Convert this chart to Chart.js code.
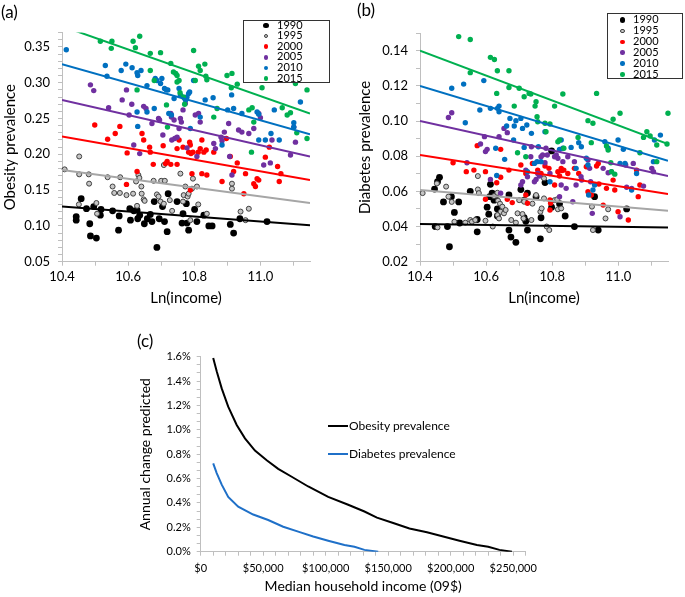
<!DOCTYPE html>
<html>
<head>
<meta charset="utf-8">
<script src="https://cdn.jsdelivr.net/npm/chart.js@4.4.1/dist/chart.umd.min.js"></script>
<style>
  body { margin: 0; background: #fff; font-family: Lato, sans-serif; color: #000; }
  #page { position: relative; width: 685px; height: 597px; overflow: hidden; }
  .pane { position: absolute; }
  .tag { position: absolute; font-size: 17px; line-height: 17px; }
  .legend { position: absolute; background: #fff; border: 1px solid #333; box-sizing: border-box; font-size: 11px; }
  .legend .dot { position: absolute; border-radius: 50%; box-sizing: border-box; }
  .legend .lab { position: absolute; line-height: 11px; }
  .lline { position: absolute; font-size: 12px; line-height: 14px; white-space: nowrap; }
  .lline i { position: absolute; left: -21px; top: 6px; width: 20px; height: 2px; }
</style>
</head>
<body>
<div id="page">
  <canvas id="ca" class="pane" width="340" height="310" style="left:0;top:0;width:340px;height:310px"></canvas>
  <canvas id="cb" class="pane" width="345" height="310" style="left:340px;top:0;width:345px;height:310px"></canvas>
  <canvas id="cc" class="pane" width="420" height="277" style="left:130px;top:320px;width:420px;height:277px"></canvas>
  <div class="tag" style="left:1px;top:3px">(a)</div>
  <div class="tag" style="left:357px;top:1px">(b)</div>
  <div class="tag" style="left:137px;top:332px">(c)</div>
  <div id="lega" class="legend" style="left:243px;top:20px;width:87px;height:63px"></div>
  <div id="legb" class="legend" style="left:607px;top:13px;width:76px;height:66px"></div>
  <div class="lline" style="left:349px;top:419px"><i style="background:#000"></i>Obesity prevalence</div>
  <div class="lline" style="left:349px;top:447px"><i style="background:#1f70c8"></i>Diabetes prevalence</div>
</div>
<script>
const years = ['1990', '1995', '2000', '2005', '2010', '2015'];
const yearColors = ['#000000', '#a6a6a6', '#ff0000', '#7030a0', '#0070c0', '#00b050'];

// (a) obesity prevalence vs ln(income), [ln income, prevalence]
const obesity1990 = [[10.443,0.113],[10.443,0.108],[10.458,0.138],[10.474,0.124],[10.484,0.103],[10.486,0.086],[10.504,0.083],[10.496,0.127],[10.516,0.115],[10.518,0.123],[10.553,0.121],[10.571,0.094],[10.573,0.114],[10.605,0.124],[10.607,0.108],[10.617,0.121],[10.627,0.122],[10.629,0.110],[10.635,0.115],[10.649,0.103],[10.658,0.110],[10.667,0.116],[10.672,0.106],[10.679,0.134],[10.687,0.070],[10.694,0.110],[10.704,0.127],[10.710,0.106],[10.718,0.092],[10.721,0.145],[10.748,0.134],[10.763,0.104],[10.766,0.117],[10.776,0.131],[10.783,0.094],[10.801,0.123],[10.808,0.106],[10.829,0.115],[10.844,0.100],[10.854,0.100],[10.909,0.102],[10.919,0.090],[10.938,0.110],[11.020,0.106],[10.778,0.104]];
const obesity1995 = [[10.408,0.179],[10.452,0.197],[10.452,0.172],[10.451,0.130],[10.481,0.172],[10.482,0.159],[10.504,0.132],[10.506,0.117],[10.538,0.168],[10.553,0.155],[10.558,0.146],[10.576,0.168],[10.575,0.146],[10.595,0.143],[10.615,0.145],[10.624,0.162],[10.631,0.171],[10.634,0.167],[10.640,0.155],[10.641,0.145],[10.647,0.137],[10.627,0.128],[10.650,0.135],[10.677,0.163],[10.687,0.144],[10.692,0.141],[10.700,0.163],[10.711,0.163],[10.708,0.185],[10.698,0.134],[10.708,0.131],[10.726,0.136],[10.733,0.121],[10.758,0.173],[10.768,0.143],[10.766,0.134],[10.773,0.155],[10.780,0.141],[10.783,0.145],[10.793,0.152],[10.788,0.108],[10.796,0.166],[10.808,0.155],[10.812,0.130],[10.838,0.117],[10.914,0.159],[10.914,0.152],[10.940,0.120],[10.955,0.108],[10.965,0.124]];
const obesity2000 = [[10.499,0.241],[10.538,0.221],[10.561,0.229],[10.575,0.239],[10.597,0.202],[10.595,0.158],[10.627,0.176],[10.642,0.229],[10.647,0.220],[10.665,0.210],[10.667,0.203],[10.676,0.186],[10.706,0.212],[10.713,0.187],[10.718,0.190],[10.729,0.186],[10.748,0.186],[10.754,0.220],[10.748,0.208],[10.766,0.210],[10.786,0.217],[10.788,0.213],[10.783,0.203],[10.790,0.201],[10.796,0.203],[10.793,0.173],[10.788,0.150],[10.812,0.203],[10.818,0.208],[10.823,0.220],[10.829,0.203],[10.836,0.206],[10.823,0.173],[10.838,0.171],[10.859,0.203],[10.884,0.162],[10.897,0.222],[10.909,0.197],[10.919,0.176],[10.930,0.188],[10.950,0.145],[10.955,0.173],[10.980,0.159],[10.990,0.166],[10.995,0.164],[10.985,0.155],[11.027,0.210],[11.052,0.183],[11.057,0.162],[11.062,0.173],[11.015,0.196]];
const obesity2005 = [[10.486,0.297],[10.496,0.289],[10.541,0.265],[10.582,0.276],[10.595,0.290],[10.603,0.255],[10.611,0.270],[10.617,0.213],[10.635,0.201],[10.647,0.267],[10.654,0.264],[10.672,0.243],[10.692,0.250],[10.695,0.248],[10.705,0.227],[10.729,0.257],[10.731,0.252],[10.739,0.248],[10.732,0.220],[10.741,0.222],[10.748,0.224],[10.754,0.236],[10.758,0.250],[10.761,0.245],[10.766,0.262],[10.773,0.271],[10.778,0.209],[10.803,0.255],[10.813,0.257],[10.808,0.197],[10.818,0.245],[10.859,0.215],[10.864,0.208],[10.881,0.224],[10.884,0.219],[10.891,0.231],[10.904,0.243],[10.907,0.197],[10.914,0.171],[10.934,0.234],[10.944,0.231],[10.965,0.229],[10.980,0.236],[10.995,0.257],[11.000,0.251],[11.010,0.185],[11.030,0.188],[11.035,0.220],[11.091,0.199],[11.101,0.238],[11.106,0.217]];
const obesity2010 = [[10.413,0.346],[10.531,0.324],[10.536,0.309],[10.579,0.317],[10.593,0.326],[10.612,0.321],[10.627,0.314],[10.629,0.310],[10.639,0.317],[10.627,0.259],[10.629,0.239],[10.657,0.296],[10.657,0.259],[10.679,0.264],[10.682,0.306],[10.687,0.303],[10.698,0.299],[10.702,0.306],[10.710,0.292],[10.716,0.290],[10.720,0.290],[10.723,0.257],[10.731,0.255],[10.739,0.278],[10.754,0.292],[10.758,0.283],[10.771,0.278],[10.774,0.276],[10.778,0.280],[10.783,0.285],[10.786,0.287],[10.798,0.303],[10.788,0.236],[10.818,0.252],[10.833,0.276],[10.857,0.279],[10.884,0.213],[10.901,0.262],[10.913,0.283],[10.919,0.264],[10.944,0.257],[10.990,0.259],[10.995,0.256],[11.015,0.220],[11.032,0.229],[11.042,0.262],[11.057,0.220],[11.101,0.244],[11.101,0.238],[11.121,0.273],[10.995,0.220]];
const obesity2015 = [[10.516,0.358],[10.551,0.358],[10.549,0.348],[10.615,0.358],[10.622,0.349],[10.635,0.365],[10.627,0.290],[10.667,0.341],[10.667,0.317],[10.698,0.342],[10.679,0.303],[10.716,0.269],[10.719,0.238],[10.729,0.327],[10.737,0.315],[10.744,0.313],[10.748,0.310],[10.754,0.303],[10.748,0.301],[10.757,0.286],[10.771,0.270],[10.767,0.280],[10.798,0.345],[10.803,0.303],[10.813,0.323],[10.818,0.317],[10.832,0.326],[10.835,0.309],[10.838,0.304],[10.869,0.264],[10.859,0.252],[10.899,0.310],[10.914,0.313],[10.912,0.293],[10.930,0.298],[10.973,0.203],[10.965,0.262],[10.975,0.265],[10.980,0.245],[11.005,0.293],[11.066,0.265],[11.081,0.255],[11.091,0.258],[11.110,0.230],[11.106,0.299],[11.141,0.222],[11.141,0.290]];
// fitted lines, value at ln income 10.4 and 11.15
const obesityFitLeft = [0.127, 0.178, 0.225, 0.276, 0.326, 0.379];
const obesityFitRight = [0.101, 0.132, 0.164, 0.197, 0.228, 0.257];

// (b) diabetes prevalence vs ln(income)
const diabetes1990 = [[10.444,0.0613],[10.453,0.0655],[10.459,0.068],[10.446,0.040],[10.471,0.054],[10.483,0.040],[10.489,0.0285],[10.495,0.057],[10.504,0.048],[10.517,0.054],[10.520,0.042],[10.552,0.060],[10.573,0.044],[10.573,0.037],[10.603,0.051],[10.611,0.057],[10.608,0.047],[10.618,0.059],[10.624,0.055],[10.628,0.057],[10.634,0.050],[10.634,0.046],[10.669,0.058],[10.669,0.038],[10.675,0.034],[10.690,0.031],[10.705,0.061],[10.715,0.055],[10.715,0.045],[10.720,0.043],[10.725,0.059],[10.725,0.038],[10.764,0.033],[10.766,0.045],[10.778,0.065],[10.798,0.083],[10.798,0.051],[10.822,0.053],[10.839,0.046],[10.867,0.040],[10.928,0.057],[10.939,0.038],[11.025,0.050],[10.751,0.057],[10.613,0.064]];
const diabetes1995 = [[10.408,0.059],[10.451,0.0645],[10.453,0.0395],[10.479,0.0627],[10.486,0.057],[10.496,0.054],[10.504,0.0427],[10.537,0.0422],[10.552,0.0437],[10.557,0.0427],[10.567,0.0437],[10.575,0.0687],[10.575,0.0611],[10.578,0.059],[10.598,0.0433],[10.620,0.040],[10.624,0.0573],[10.634,0.0592],[10.636,0.0547],[10.642,0.053],[10.644,0.0484],[10.649,0.0513],[10.654,0.0475],[10.659,0.0494],[10.634,0.0465],[10.639,0.0446],[10.676,0.0437],[10.690,0.0422],[10.695,0.0475],[10.700,0.055],[10.710,0.0471],[10.713,0.0446],[10.715,0.0541],[10.737,0.0437],[10.740,0.053],[10.751,0.0579],[10.764,0.0484],[10.768,0.0503],[10.775,0.056],[10.783,0.040],[10.791,0.038],[10.807,0.055],[10.817,0.0498],[10.827,0.0503],[10.923,0.038],[10.920,0.0513],[10.969,0.0498],[10.961,0.0446],[10.775,0.0674],[10.815,0.0555]];
const diabetes2000 = [[10.500,0.0763],[10.540,0.0712],[10.563,0.0721],[10.573,0.086],[10.598,0.0712],[10.598,0.0555],[10.632,0.0649],[10.644,0.068],[10.644,0.0839],[10.669,0.0721],[10.664,0.0555],[10.679,0.0536],[10.705,0.075],[10.720,0.0702],[10.720,0.0579],[10.725,0.0532],[10.740,0.0759],[10.756,0.0721],[10.766,0.0702],[10.778,0.0744],[10.790,0.0731],[10.793,0.0551],[10.795,0.0532],[10.793,0.0494],[10.807,0.0636],[10.817,0.0712],[10.822,0.0687],[10.829,0.0718],[10.835,0.0721],[10.827,0.0731],[10.847,0.0702],[10.867,0.0731],[10.880,0.0702],[10.903,0.074],[10.908,0.0598],[10.918,0.0579],[10.934,0.0744],[10.939,0.0759],[10.941,0.0642],[10.954,0.0522],[10.964,0.0617],[10.984,0.0664],[10.989,0.0608],[10.999,0.0484],[11.030,0.0437],[11.055,0.0721],[11.060,0.057],[11.065,0.0636]];
const diabetes2005 = [[10.486,0.102],[10.496,0.1047],[10.542,0.0763],[10.583,0.0869],[10.595,0.0911],[10.598,0.0826],[10.603,0.0839],[10.613,0.0668],[10.639,0.0911],[10.644,0.0589],[10.654,0.0958],[10.664,0.0934],[10.705,0.0636],[10.710,0.0655],[10.720,0.0721],[10.725,0.0683],[10.735,0.0797],[10.737,0.0854],[10.746,0.0655],[10.751,0.0668],[10.756,0.0702],[10.761,0.0687],[10.766,0.0797],[10.771,0.0807],[10.778,0.0763],[10.781,0.0845],[10.785,0.0807],[10.793,0.0702],[10.807,0.0797],[10.812,0.0807],[10.817,0.0788],[10.822,0.057],[10.827,0.0636],[10.832,0.0769],[10.842,0.0617],[10.847,0.0797],[10.862,0.0541],[10.867,0.0769],[10.872,0.0636],[10.887,0.0683],[10.889,0.0664],[10.908,0.0778],[10.913,0.0731],[10.916,0.0655],[10.921,0.0475],[10.954,0.0731],[10.969,0.0706],[10.979,0.0712],[11.005,0.0456],[11.022,0.075],[11.025,0.0623],[11.040,0.0617],[11.101,0.0731],[11.106,0.0712],[11.076,0.0630],[11.045,0.0759]];
const diabetes2010 = [[10.496,0.1186],[10.532,0.121],[10.537,0.099],[10.581,0.1063],[10.593,0.123],[10.613,0.1072],[10.634,0.1072],[10.639,0.1053],[10.639,0.1085],[10.629,0.0845],[10.632,0.069],[10.656,0.0782],[10.662,0.0972],[10.672,0.1015],[10.683,0.0892],[10.685,0.0972],[10.690,0.1002],[10.705,0.1015],[10.710,0.0958],[10.715,0.085],[10.723,0.0977],[10.725,0.0712],[10.737,0.093],[10.746,0.0759],[10.754,0.0769],[10.758,0.0854],[10.766,0.0769],[10.778,0.0939],[10.793,0.0655],[10.822,0.0839],[10.827,0.0892],[10.832,0.0845],[10.857,0.085],[10.872,0.0731],[10.880,0.0877],[10.888,0.0854],[10.903,0.0788],[10.908,0.075],[10.910,0.0579],[10.923,0.0608],[10.928,0.0636],[10.959,0.0882],[10.969,0.0845],[10.999,0.0892],[11.005,0.0759],[11.015,0.0839],[11.020,0.0759],[11.040,0.0608],[11.055,0.0702],[11.109,0.0892],[11.127,0.092],[11.106,0.0769]];
const diabetes2015 = [[10.517,0.148],[10.552,0.1464],[10.552,0.1275],[10.613,0.1362],[10.625,0.135],[10.634,0.1286],[10.632,0.1157],[10.669,0.1286],[10.669,0.1191],[10.685,0.1085],[10.700,0.1186],[10.715,0.1138],[10.730,0.1157],[10.735,0.1154],[10.751,0.111],[10.748,0.1085],[10.754,0.1025],[10.756,0.0996],[10.778,0.0987],[10.781,0.0939],[10.793,0.0983],[10.807,0.1085],[10.817,0.0882],[10.822,0.0892],[10.832,0.1154],[10.835,0.0845],[10.695,0.082],[10.720,0.0797],[10.878,0.0907],[10.908,0.1002],[10.918,0.0877],[10.923,0.0987],[10.934,0.1157],[10.964,0.0858],[10.977,0.0763],[10.984,0.101],[10.989,0.0698],[11.005,0.1044],[11.065,0.082],[11.076,0.0907],[11.086,0.0939],[11.096,0.0915],[11.116,0.0769],[11.116,0.0864],[11.147,0.0869],[11.150,0.1044],[10.969,0.0835],[10.979,0.0712]];
const diabetesFitLeft = [0.0414, 0.0608, 0.0807, 0.100, 0.120, 0.140];
const diabetesFitRight = [0.0395, 0.049, 0.0585, 0.0687, 0.0774, 0.0869];

// (c) predicted annual change (%) by median household income
const obesityIncome = [10000, 12800, 16800, 22000, 28800, 35400, 43400, 52800, 62000, 72800, 86000, 102000, 118000, 131000, 141000, 154000, 167000, 181000, 194000, 207000, 221000, 230000, 239000, 249000];
const obesityChange = [1.59, 1.48, 1.34, 1.19, 1.04, 0.93, 0.83, 0.75, 0.68, 0.615, 0.535, 0.45, 0.385, 0.33, 0.28, 0.235, 0.19, 0.16, 0.125, 0.09, 0.055, 0.04, 0.015, 0.0];
const diabetesIncome = [10000, 12800, 16800, 22000, 30000, 42000, 54000, 66000, 78000, 90000, 102000, 115000, 123000, 131000, 142000];
const diabetesChange = [0.725, 0.645, 0.55, 0.45, 0.37, 0.305, 0.26, 0.205, 0.165, 0.125, 0.09, 0.055, 0.04, 0.015, 0.0];

const lnTicks = [10.4, 10.5, 10.6, 10.7, 10.8, 10.9, 11.0, 11.1];
const lnLabels = [10.4, 10.6, 10.8, 11.0];

const FONT = 'Lato, sans-serif';
const AXIS_GREY = '#bfbfbf';

function isOn(v, list) {
  return list.some(l => Math.abs(l - v) < 1e-6);
}

function stepTicks(min, max, n) {
  const out = [];
  for (let i = 0; i <= n; i++) out.push(min + (max - min) * i / n);
  return out;
}

function scatterPanel(id, series, fitLeft, fitRight, p) {
  const datasets = [];
  series.forEach((pts, i) => {
    datasets.push({
      type: 'scatter',
      data: pts.map(d => ({x: d[0], y: d[1]})),
      backgroundColor: i == 1 ? '#c6c6c6' : yearColors[i],
      borderColor: i == 1 ? '#404040' : yearColors[i],
      borderWidth: i == 1 ? 1 : 0,
      pointRadius: i == 0 ? 3.4 : (i == 1 ? 2.5 : 2.7),
      order: 10 - i,
      clip: 4,
    });
  });
  series.forEach((pts, i) => {
    datasets.push({
      type: 'line',
      data: [{x: 10.4, y: fitLeft[i]}, {x: 11.15, y: fitRight[i]}],
      borderColor: yearColors[i],
      borderWidth: 2,
      pointRadius: 0,
      order: 0,
    });
  });
  const yTicks = stepTicks(p.yMin, p.yMax, Math.round((p.yMax - p.yMin) / 0.01));
  new Chart(document.getElementById(id), {
    type: 'scatter',
    data: {datasets},
    options: {
      responsive: false,
      animation: false,
      events: [],
      layout: {padding: {top: p.top, right: p.right, left: 0, bottom: 0}},
      plugins: {legend: {display: false}, tooltip: {enabled: false}},
      scales: {
        x: {
          type: 'linear', min: 10.4, max: 11.15,
          afterBuildTicks: s => { s.ticks = lnTicks.map(v => ({value: v})); },
          afterFit: s => { s.height = 48.3; },
          grid: {drawOnChartArea: false, tickLength: 4, color: AXIS_GREY},
          border: {color: AXIS_GREY},
          ticks: {
            autoSkip: false, maxRotation: 0, padding: 3, color: '#000',
            font: {family: FONT, size: 13},
            callback: v => isOn(v, lnLabels) ? v.toFixed(1) : '',
          },
          title: {display: true, text: 'Ln(income)', color: '#000',
                  font: {family: FONT, size: 15}, padding: {top: 0, bottom: 3}},
        },
        y: {
          type: 'linear', min: p.yMin, max: p.yMax,
          afterBuildTicks: s => { s.ticks = yTicks.map(v => ({value: v})); },
          afterFit: s => { s.width = p.yWidth; },
          grid: {drawOnChartArea: false, tickLength: 4, color: AXIS_GREY},
          border: {color: AXIS_GREY},
          ticks: {
            autoSkip: false, padding: p.tickPad, color: '#000',
            font: {family: FONT, size: 13},
            callback: v => isOn(v, p.yLabels) ? v.toFixed(2) : '',
          },
          title: {display: true, text: p.yTitle, color: '#000',
                  font: {family: FONT, size: 15}, padding: {top: p.titlePad, bottom: 0}},
        },
      },
    },
  });
}

scatterPanel('ca',
  [obesity1990, obesity1995, obesity2000, obesity2005, obesity2010, obesity2015],
  obesityFitLeft, obesityFitRight,
  {yMin: 0.05, yMax: 0.37, yLabels: [0.05, 0.10, 0.15, 0.20, 0.25, 0.30, 0.35],
   yTitle: 'Obesity prevalence', yWidth: 62, top: 32.6, right: 30, tickPad: 8, titlePad: 1});

scatterPanel('cb',
  [diabetes1990, diabetes1995, diabetes2000, diabetes2005, diabetes2010, diabetes2015],
  diabetesFitLeft, diabetesFitRight,
  {yMin: 0.02, yMax: 0.15, yLabels: [0.02, 0.04, 0.06, 0.08, 0.10, 0.12, 0.14],
   yTitle: 'Diabetes prevalence', yWidth: 80, top: 33.1, right: 17, tickPad: 8, titlePad: 16});

// (c)
const incomeTicks = stepTicks(0, 260000, 26);
const incomeLabels = [0, 50000, 100000, 150000, 200000, 250000];
const changeTicks = stepTicks(0, 1.6, 24);
const changeLabels = [0, 0.2, 0.4, 0.6, 0.8, 1.0, 1.2, 1.4, 1.6];

new Chart(document.getElementById('cc'), {
  type: 'scatter',
  data: {
    datasets: [
      {data: obesityIncome.map((x, i) => ({x, y: obesityChange[i]})), showLine: true,
       borderColor: '#000', borderWidth: 2, pointRadius: 0},
      {data: diabetesIncome.map((x, i) => ({x, y: diabetesChange[i]})), showLine: true,
       borderColor: '#1f70c8', borderWidth: 2, pointRadius: 0},
    ],
  },
  options: {
    responsive: false,
    animation: false,
    events: [],
    layout: {padding: {top: 36.7, right: 24.3, left: 0, bottom: 0}},
    plugins: {legend: {display: false}, tooltip: {enabled: false}},
    scales: {
      x: {
        type: 'linear', min: 0, max: 260000,
        afterBuildTicks: s => { s.ticks = incomeTicks.map(v => ({value: v})); },
        afterFit: s => { s.height = 45.3; },
        grid: {drawOnChartArea: false, tickLength: 4, color: AXIS_GREY},
        border: {color: AXIS_GREY},
        ticks: {
          autoSkip: false, maxRotation: 0, padding: 6, color: '#000',
          font: {family: FONT, size: 11},
          callback: v => isOn(v, incomeLabels) ? '$' + v.toLocaleString('en-US') : '',
        },
        title: {display: true, text: 'Median household income (09$)', color: '#000',
                font: {family: FONT, size: 14}, padding: {top: 0, bottom: 2}},
      },
      y: {
        type: 'linear', min: 0, max: 1.6,
        afterBuildTicks: s => { s.ticks = changeTicks.map(v => ({value: v})); },
        afterFit: s => { s.width = 70.7; },
        grid: {drawOnChartArea: false, tickLength: 4, color: AXIS_GREY},
        border: {color: AXIS_GREY},
        ticks: {
          autoSkip: false, padding: 6, color: '#000',
          font: {family: FONT, size: 11},
          callback: v => isOn(v, changeLabels) ? v.toFixed(1) + '%' : '',
        },
        title: {display: true, text: 'Annual change predicted', color: '#000',
                font: {family: FONT, size: 14}, padding: {top: 7, bottom: 0}},
      },
    },
  },
});

// legends of (a) and (b)
function buildLegend(id, firstY, rowH, dotX, labX) {
  const box = document.getElementById(id);
  years.forEach((yr, i) => {
    const cy = firstY + i * rowH;
    const d = i == 0 ? 5.5 : 4.5;
    const dot = document.createElement('span');
    dot.className = 'dot';
    dot.style.width = d + 'px';
    dot.style.height = d + 'px';
    dot.style.left = (dotX - d / 2) + 'px';
    dot.style.top = (cy + 1 - d / 2) + 'px';
    dot.style.background = i == 1 ? '#c6c6c6' : yearColors[i];
    if (i == 1) dot.style.border = '1px solid #404040';
    const lab = document.createElement('span');
    lab.className = 'lab';
    lab.textContent = yr;
    lab.style.left = labX + 'px';
    lab.style.top = (cy - 6) + 'px';
    box.appendChild(dot);
    box.appendChild(lab);
  });
}
buildLegend('lega', 3.5, 10.6, 22, 33);
buildLegend('legb', 5, 10.9, 14.5, 25);
</script>
</body>
</html>
